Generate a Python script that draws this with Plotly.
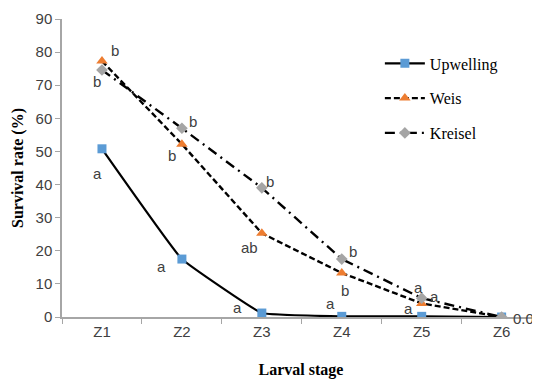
import plotly.graph_objects as go

stages = ["Z1", "Z2", "Z3", "Z4", "Z5", "Z6"]
upwelling = [50.8, 17.5, 1.2, 0.2, 0.2, 0.0]
weis = [77.3, 52.2, 25.3, 13.3, 4.1, 0.0]
kreisel = [74.6, 57.0, 39.0, 17.5, 5.7, 0.0]

up_letters = ["a", "a", "a", "a", "a", ""]
weis_letters = ["b", "b", "ab", "b", "a", ""]
kreisel_letters = ["b", "b", "b", "b", "a", ""]
end_label = "0.0"

fig = go.Figure()
fig.add_trace(go.Scatter(
    x=stages, y=upwelling, name="Upwelling", mode="lines+markers",
    line=dict(color="black", width=2.2, shape="spline", smoothing=0.25),
    marker=dict(symbol="square", size=9, color="#5b9bd5"),
    legendgroup="u"))
fig.add_trace(go.Scatter(
    x=stages, y=weis, name="Weis", mode="lines+markers",
    line=dict(color="black", width=2.4, dash="6px,3px"),
    marker=dict(symbol="triangle-up", size=10, color="#ed7d31"),
    legendgroup="w"))
fig.add_trace(go.Scatter(
    x=stages, y=kreisel, name="Kreisel", mode="lines+markers",
    line=dict(color="black", width=2.4, dash="10px,5px,2px,5px"),
    marker=dict(symbol="diamond", size=9, color="#a5a5a5"),
    legendgroup="k"))

# offsets (px) for letter labels relative to points
up_off = [(-4, -25), (-20, -7), (-24, 6), (-11, 13), (-13, 8), (0, 0)]
weis_off = [(13, 11), (-10, -11), (-12, -14), (3, -18), (13, 7), (0, 0)]
kre_off = [(-5, -12), (11, 7), (8, 6), (11, 8), (-3, 11), (0, 0)]

lab_font = dict(family="Liberation Sans Narrow, Liberation Sans, Arial", size=15, color="#404040")
for vals, letters, offs in [(upwelling, up_letters, up_off),
                            (weis, weis_letters, weis_off),
                            (kreisel, kreisel_letters, kre_off)]:
    for s, v, t, (dx, dy) in zip(stages, vals, letters, offs):
        if t:
            fig.add_annotation(x=s, y=v, text=t, showarrow=False,
                               xshift=dx, yshift=dy, font=lab_font)
fig.add_annotation(x=stages[-1], y=upwelling[-1], text=end_label, showarrow=False,
                   xshift=22, yshift=-1, font=lab_font)

fig.update_layout(
    width=532, height=371,
    margin=dict(l=54, r=0, t=11, b=62),
    paper_bgcolor="white", plot_bgcolor="white",
    showlegend=True,
    legend=dict(x=0.665, y=0.908, xanchor="left", yanchor="top",
                font=dict(family="Liberation Serif, Times New Roman", size=16, color="black"),
                tracegroupgap=11, bgcolor="rgba(255,255,255,0)", itemwidth=40),
    xaxis=dict(
        range=[-0.5, 5.48], showgrid=False, showline=True, linecolor="#a6a6a6",
        linewidth=1.5, ticks="outside", tickcolor="#a6a6a6", ticklen=5,
        tickson="boundaries",
        tickfont=dict(family="Liberation Sans Narrow, Liberation Sans, Arial", size=15, color="#404040"),
        title=dict(text="<b>Larval stage</b>", standoff=28,
                   font=dict(family="Liberation Serif, Times New Roman", size=16, color="black")),
    ),
    yaxis=dict(
        range=[0, 90], dtick=10, showgrid=False, showline=True, linecolor="#a6a6a6",
        linewidth=1.5, ticks="outside", tickcolor="#a6a6a6", ticklen=5, zeroline=False,
        tickfont=dict(family="Liberation Sans Narrow, Liberation Sans, Arial", size=15, color="#404040"),
        title=dict(text="<b>Survival rate (%)</b>", standoff=8,
                   font=dict(family="Liberation Serif, Times New Roman", size=16, color="black")),
    ),
)

fig.write_html("out.html")
